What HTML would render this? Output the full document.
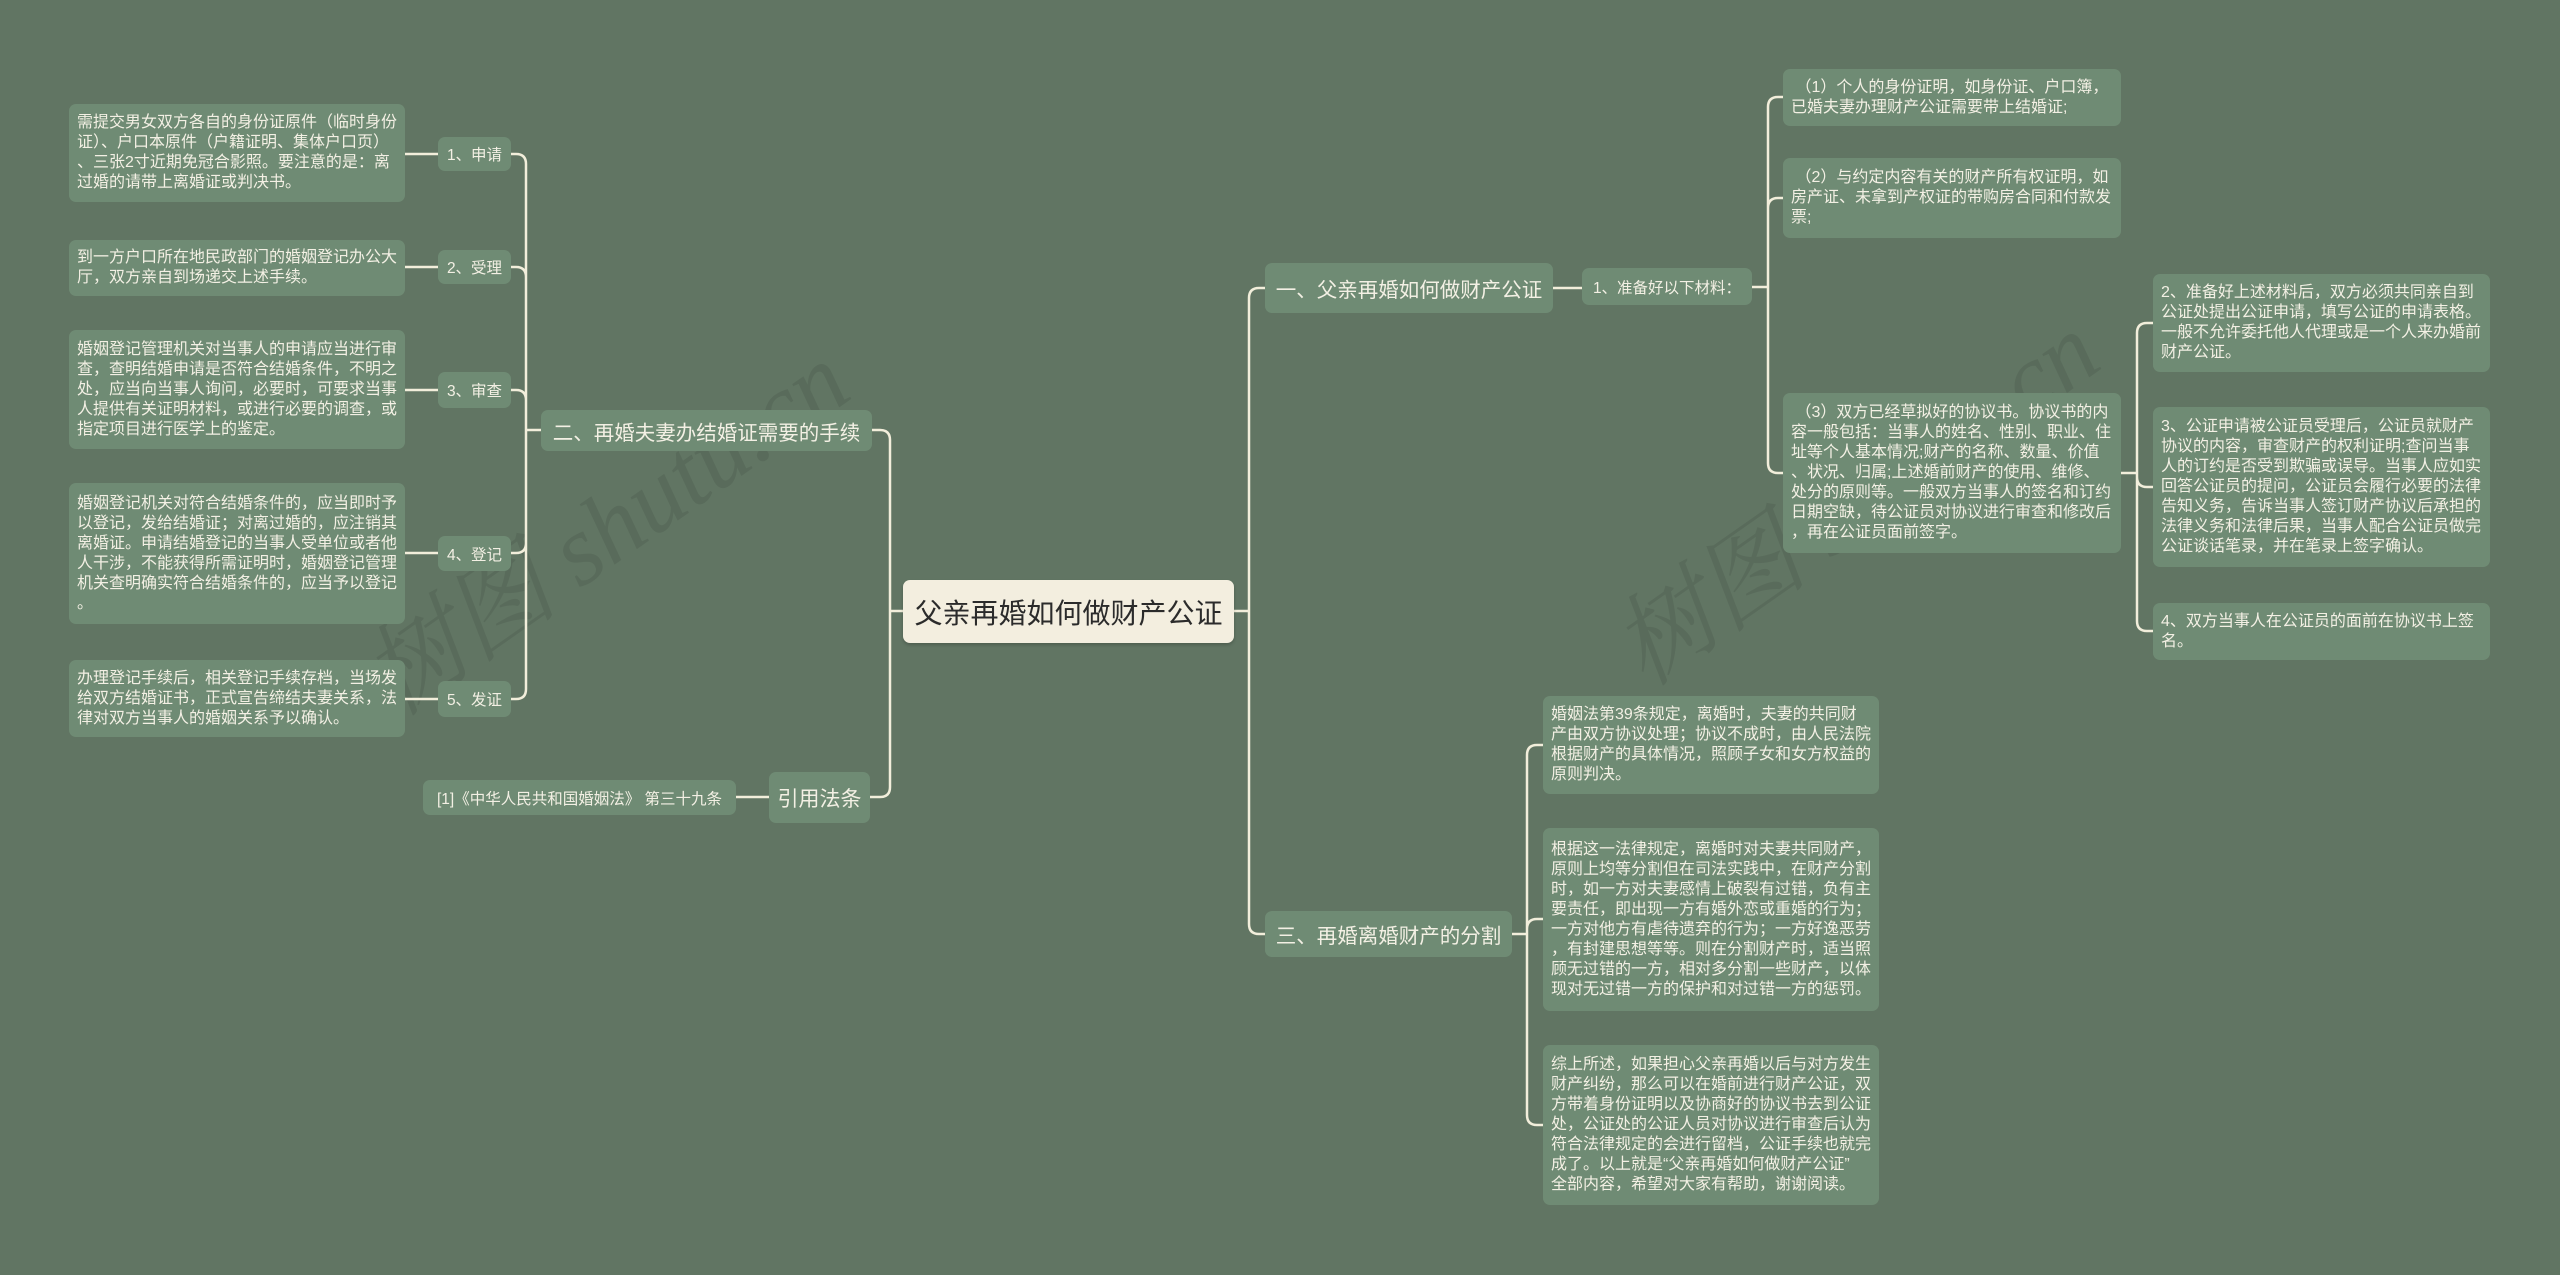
<!DOCTYPE html>
<html><head><meta charset="utf-8">
<style>
html,body{margin:0;padding:0}
body{width:2560px;height:1275px;background:#617563;position:relative;overflow:hidden;font-family:"Liberation Sans","Noto Sans CJK SC",sans-serif;}
.n{position:absolute;background:#6f8b74;color:#f3f0e4;border-radius:7px;box-sizing:border-box;display:flex;align-items:center;white-space:nowrap;}
.t{font-size:16px;line-height:20px;padding:0 8px;}
.s{font-size:15.5px;justify-content:center;}
.b{font-size:20.5px;justify-content:center;}
.wm{position:absolute;font-family:"Liberation Serif","Noto Serif CJK SC",serif;font-style:italic;font-size:100px;color:rgba(40,50,40,0.13);transform:rotate(-35deg);white-space:nowrap;}
svg{position:absolute;left:0;top:0}
</style></head><body>
<div class="wm" style="left:320px;top:450px;">树图 shutu.cn</div>
<div class="wm" style="left:1570px;top:420px;">树图 shutu.cn</div>
<svg width="2560" height="1275" fill="none" stroke="#f2eedb" stroke-width="2.5">
<path d="M405 154H438M405 267H438M405 390H438M405 553H438M405 699H438M736 797H769"/>
<path d="M541 430H526M526 430V164Q526 154 516 154H511M526 430V277Q526 267 516 267H511M526 430V400Q526 390 516 390H511M526 430V543Q526 553 516 553H511M526 430V689Q526 699 516 699H511"/>
<path d="M903 611H890M890 611V440Q890 430 880 430H872M890 611V787Q890 797 880 797H870"/>
<path d="M1234 611H1249M1249 611V298Q1249 288 1259 288H1265M1249 611V924Q1249 934 1259 934H1265"/>
<path d="M1553 288H1582"/>
<path d="M1752 287H1768M1768 287V107Q1768 97 1778 97H1783M1768 287V208Q1768 198 1778 198H1783M1768 287V463Q1768 473 1778 473H1783"/>
<path d="M2121 473H2137M2137 473V333Q2137 323 2147 323H2153M2137 473V477Q2137 487 2147 487H2153M2137 473V621Q2137 631 2147 631H2153"/>
<path d="M1512 934H1527M1527 934V755Q1527 745 1537 745H1543M1527 934V929Q1527 919 1537 919H1543M1527 934V1115Q1527 1125 1537 1125H1543"/>
</svg>

<div class="n t" style="left:69px;top:104px;width:336px;height:98px;">需提交男女双方各自的身份证原件（临时身份<br>证）、户口本原件（户籍证明、集体户口页）<br>、三张2寸近期免冠合影照。要注意的是：离<br>过婚的请带上离婚证或判决书。</div>
<div class="n t" style="left:69px;top:240px;width:336px;height:56px;">到一方户口所在地民政部门的婚姻登记办公大<br>厅，双方亲自到场递交上述手续。</div>
<div class="n t" style="left:69px;top:330px;width:336px;height:119px;">婚姻登记管理机关对当事人的申请应当进行审<br>查，查明结婚申请是否符合结婚条件，不明之<br>处，应当向当事人询问，必要时，可要求当事<br>人提供有关证明材料，或进行必要的调查，或<br>指定项目进行医学上的鉴定。</div>
<div class="n t" style="left:69px;top:483px;width:336px;height:141px;">婚姻登记机关对符合结婚条件的，应当即时予<br>以登记，发给结婚证；对离过婚的，应注销其<br>离婚证。申请结婚登记的当事人受单位或者他<br>人干涉，不能获得所需证明时，婚姻登记管理<br>机关查明确实符合结婚条件的，应当予以登记<br>。</div>
<div class="n t" style="left:69px;top:660px;width:336px;height:77px;">办理登记手续后，相关登记手续存档，当场发<br>给双方结婚证书，正式宣告缔结夫妻关系，法<br>律对双方当事人的婚姻关系予以确认。</div>

<div class="n s" style="left:438px;top:137px;width:73px;height:34px;">1、申请</div>
<div class="n s" style="left:438px;top:250px;width:73px;height:34px;">2、受理</div>
<div class="n s" style="left:438px;top:372px;width:73px;height:36px;">3、审查</div>
<div class="n s" style="left:438px;top:536px;width:73px;height:35px;">4、登记</div>
<div class="n s" style="left:438px;top:681px;width:73px;height:36px;">5、发证</div>

<div class="n b" style="left:541px;top:410px;width:331px;height:41px;">二、再婚夫妻办结婚证需要的手续</div>
<div class="n b" style="left:769px;top:772px;width:101px;height:51px;font-size:21px;">引用法条</div>
<div class="n s" style="left:423px;top:780px;width:313px;height:35px;">[1]《中华人民共和国婚姻法》 第三十九条</div>

<div class="n" style="left:903px;top:580px;width:331px;height:63px;background:#f3eedf;color:#2b2b2b;font-size:28px;justify-content:center;box-shadow:0 2px 3px rgba(0,0,0,0.2);">父亲再婚如何做财产公证</div>

<div class="n b" style="left:1265px;top:263px;width:288px;height:50px;">一、父亲再婚如何做财产公证</div>
<div class="n s" style="left:1582px;top:268px;width:170px;height:37px;">1、准备好以下材料：</div>

<div class="n t" style="left:1783px;top:69px;width:338px;height:57px;">&nbsp;（1）个人的身份证明，如身份证、户口簿，<br>已婚夫妻办理财产公证需要带上结婚证;</div>
<div class="n t" style="left:1783px;top:158px;width:338px;height:80px;">&nbsp;（2）与约定内容有关的财产所有权证明，如<br>房产证、未拿到产权证的带购房合同和付款发<br>票;</div>
<div class="n t" style="left:1783px;top:393px;width:338px;height:160px;">&nbsp;（3）双方已经草拟好的协议书。协议书的内<br>容一般包括：当事人的姓名、性别、职业、住<br>址等个人基本情况;财产的名称、数量、价值<br>、状况、归属;上述婚前财产的使用、维修、<br>处分的原则等。一般双方当事人的签名和订约<br>日期空缺，待公证员对协议进行审查和修改后<br>，再在公证员面前签字。</div>

<div class="n t" style="left:2153px;top:274px;width:337px;height:98px;">2、准备好上述材料后，双方必须共同亲自到<br>公证处提出公证申请，填写公证的申请表格。<br>一般不允许委托他人代理或是一个人来办婚前<br>财产公证。</div>
<div class="n t" style="left:2153px;top:407px;width:337px;height:160px;">3、公证申请被公证员受理后，公证员就财产<br>协议的内容，审查财产的权利证明;查问当事<br>人的订约是否受到欺骗或误导。当事人应如实<br>回答公证员的提问，公证员会履行必要的法律<br>告知义务，告诉当事人签订财产协议后承担的<br>法律义务和法律后果，当事人配合公证员做完<br>公证谈话笔录，并在笔录上签字确认。</div>
<div class="n t" style="left:2153px;top:603px;width:337px;height:57px;">4、双方当事人在公证员的面前在协议书上签<br>名。</div>

<div class="n b" style="left:1265px;top:911px;width:247px;height:46px;">三、再婚离婚财产的分割</div>

<div class="n t" style="left:1543px;top:696px;width:336px;height:98px;">婚姻法第39条规定，离婚时，夫妻的共同财<br>产由双方协议处理；协议不成时，由人民法院<br>根据财产的具体情况，照顾子女和女方权益的<br>原则判决。</div>
<div class="n t" style="left:1543px;top:828px;width:336px;height:183px;">根据这一法律规定，离婚时对夫妻共同财产，<br>原则上均等分割但在司法实践中，在财产分割<br>时，如一方对夫妻感情上破裂有过错，负有主<br>要责任，即出现一方有婚外恋或重婚的行为；<br>一方对他方有虐待遗弃的行为；一方好逸恶劳<br>，有封建思想等等。则在分割财产时，适当照<br>顾无过错的一方，相对多分割一些财产，以体<br>现对无过错一方的保护和对过错一方的惩罚。</div>
<div class="n t" style="left:1543px;top:1045px;width:336px;height:160px;">综上所述，如果担心父亲再婚以后与对方发生<br>财产纠纷，那么可以在婚前进行财产公证，双<br>方带着身份证明以及协商好的协议书去到公证<br>处，公证处的公证人员对协议进行审查后认为<br>符合法律规定的会进行留档，公证手续也就完<br>成了。以上就是“父亲再婚如何做财产公证”<br>全部内容，希望对大家有帮助，谢谢阅读。</div>
</body></html>
